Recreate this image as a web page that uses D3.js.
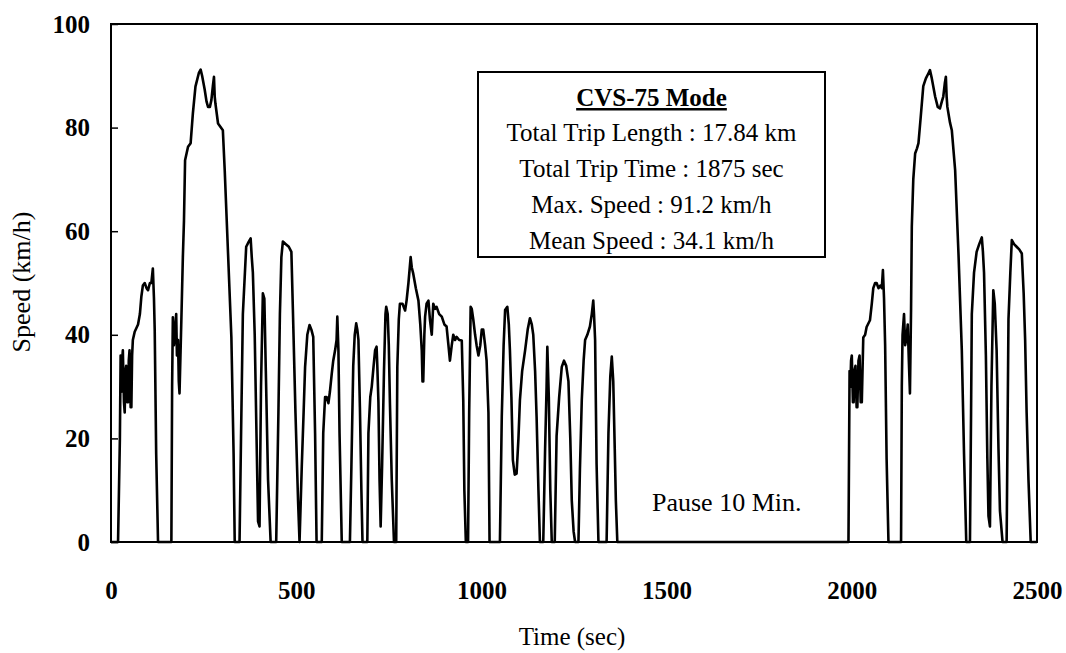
<!DOCTYPE html>
<html>
<head>
<meta charset="utf-8">
<script src="https://cdn.jsdelivr.net/npm/d3@7"></script>
<style>
  body { margin: 0; background: #fff; }
  svg { display: block; }
  text { font-family: 'Liberation Serif', 'Times New Roman', serif; fill: #000; }
</style>
</head>
<body>
<div class="chart-container"></div>
<script>
// cold start phase (0 - 505 s)
const coldTime = [0, 19, 24, 26, 28, 30, 32, 35, 37, 39, 41, 44, 46, 48, 50, 53, 55, 57, 59, 64, 73, 78, 82, 86, 91, 96, 100, 105, 109, 113, 116, 118, 122, 127,
  163, 165, 167, 170, 172, 176, 178, 181, 183, 185, 190, 194, 197, 200, 204, 208, 215, 221, 228, 237, 242, 246, 253, 258, 262, 267, 271, 275, 278, 280, 282, 289, 302, 307, 316, 325, 331, 334,
  347, 351, 356, 365, 372, 377, 380, 383, 388, 393, 397, 401, 405, 410, 414, 418, 424, 431,
  446, 452, 456, 460, 464, 472, 480, 487, 491, 498, 505, 509];
const coldSpeed = [0, 0, 20, 36, 29, 35, 37, 27, 25, 33, 34, 27, 27, 35, 37, 26, 26, 36, 39, 40.6, 42, 44, 47.4, 49.5, 50, 49, 48.6, 50, 50, 52.8, 47, 41, 17, 0,
  0, 30, 43.4, 38, 40, 44, 36, 39, 31, 28.7, 43, 55, 62, 73.7, 75, 76.3, 77, 82.7, 87.9, 90.5, 91.2, 90, 87.3, 85, 84, 84, 85.3, 88, 89.8, 86, 84.6, 80.8, 79.5, 71.8, 55.7, 39.5, 17, 0,
  0, 20, 44, 57, 58, 58.6, 55, 52, 40, 20, 4, 3, 30, 48, 47, 33, 12, 0,
  0, 25, 44, 55, 58, 57.5, 57, 56, 45, 25, 8, 0];

// stabilized phase (505 - 1372 s)
const stableTime = [515, 520, 524, 530, 536, 541, 546, 551, 555,
  569, 573, 578, 582, 587, 591, 596, 600, 605, 609, 611, 614, 617, 623,
  645, 649, 654, 658, 662, 665, 668, 672, 676, 679,
  692, 695, 700, 704, 709, 713, 717, 719, 722, 725, 728, 732, 737, 741, 743, 747, 750, 753, 758, 764,
  770, 773, 777, 780, 787, 794, 798, 803, 809, 812, 816, 823, 830, 835, 839, 841, 843, 846, 848, 852, 857, 861, 866, 870, 875, 879, 886, 893, 900, 906, 911, 915, 920, 924, 929, 933, 940, 947, 951, 954, 958,
  964, 967, 971, 974, 978, 983, 987, 992, 997, 1001, 1005, 1010, 1014, 1019, 1022,
  1050, 1055, 1060, 1064, 1070, 1074, 1077, 1081, 1085, 1090, 1095, 1100, 1104, 1110, 1118, 1125, 1131, 1136, 1140, 1145, 1149, 1154, 1158,
  1167, 1172, 1176, 1178, 1182, 1186, 1190,
  1198, 1203, 1210, 1217, 1223, 1229, 1235, 1240, 1244, 1249, 1253,
  1262, 1266, 1271, 1276, 1280, 1286, 1293, 1298, 1302, 1304, 1307, 1311, 1316,
  1338, 1343, 1348, 1352, 1356, 1360, 1363, 1367, 1372];
const stableSpeed = [14.5, 25, 33.8, 40, 41.9, 41, 39.6, 21, 0,
  0, 21, 28, 28, 26.8, 29, 32.5, 35, 37, 39, 43.5, 37, 21, 0,
  0, 14.5, 34, 40, 42.2, 41, 39, 26, 10, 0,
  0, 21, 28, 30, 34, 37, 37.7, 34, 27, 12, 3, 15, 33, 44, 45.4, 44, 38, 27, 12, 0,
  0, 33.8, 43, 46, 46, 44.7, 46.6, 50, 55, 53, 51.8, 49, 46.6, 42, 37, 31, 31, 40, 43.5, 46, 46.6, 43, 40, 46, 45, 45.4, 44, 43.5, 42, 41.6, 38, 35, 38, 40, 39, 39.6, 39, 38.9, 27.4, 10, 0,
  0, 25, 45.4, 45, 43, 40, 38, 36, 38, 41, 41, 38, 35, 25, 0,
  0, 24.2, 38, 44.8, 45.4, 42, 37, 28, 15.8, 13, 13.2, 20, 27.4, 33, 37, 41, 43.2, 42, 40, 33, 24.2, 10, 0,
  0, 18, 30, 37.7, 28, 10, 0,
  0, 20.5, 28, 33.8, 35, 34, 31, 20, 8, 2, 0,
  0, 14, 27.4, 35, 39, 40, 41.6, 44, 46.6, 44, 39, 15, 0,
  0, 21, 32, 35.8, 31, 18, 8, 0, 0];

// hot start phase after the 10 min pause
const hotTime = [1991, 1994, 1996, 1998, 2000, 2003, 2005, 2007, 2010, 2013, 2015, 2018, 2021, 2024, 2027, 2031, 2036, 2040, 2049, 2054, 2058, 2063, 2067, 2072, 2077, 2081, 2084, 2087, 2090, 2094, 2099,
  2133, 2135, 2137, 2141, 2144, 2148, 2151, 2154, 2157, 2160, 2162, 2166, 2171, 2176, 2180, 2186, 2193, 2200, 2207, 2211, 2216, 2225, 2232, 2238, 2243, 2247, 2251, 2254, 2256, 2258, 2265, 2270, 2279, 2288, 2297, 2303, 2309,
  2319, 2322, 2324, 2330, 2337, 2344, 2351, 2354, 2357, 2362, 2366, 2369, 2373, 2377, 2382, 2386, 2391, 2396, 2400, 2407,
  2418, 2423, 2428, 2432, 2438, 2445, 2452, 2459, 2464, 2468, 2472, 2477, 2483, 2500];
const hotSpeed = [0, 33, 30, 35, 36, 27, 27, 33, 34, 26, 26, 35, 36, 27, 27, 39.5, 40, 41.5, 42.8, 46, 49, 50, 50, 49, 49.5, 49, 52.5, 47, 38, 16, 0,
  0, 30, 40, 44, 38, 39.5, 42, 35, 28.7, 45, 60.9, 70, 75, 76, 77, 82, 88, 89.5, 90.5, 91.1, 89.5, 86, 84, 83.7, 85, 86, 88.5, 89.8, 86, 84, 81, 79.5, 71.8, 55.7, 37, 17, 0,
  0, 25, 44, 52, 56, 57.5, 58.8, 56, 52, 36, 16, 5, 3, 30, 48.6, 46, 37, 18, 6, 0,
  0, 43, 52, 58.3, 57.5, 57, 56.5, 55.7, 48, 39, 25, 12, 0, 0];

const xTicks = [0, 500, 1000, 1500, 2000, 2500];
const yTicks = [0, 20, 40, 60, 80, 100];
const infoTitle = 'CVS-75 Mode';
const infoLines = ['Total Trip Length : 17.84 km', 'Total Trip Time : 1875 sec', 'Max. Speed : 91.2 km/h', 'Mean Speed : 34.1 km/h'];

const width = 1066;
const height = 653;
const margin = { top: 24, right: 29, bottom: 111, left: 111 };
const plotW = width - margin.left - margin.right;
const plotH = height - margin.top - margin.bottom;

const svg = d3.select('.chart-container')
    .append('svg')
    .attr('width', width)
    .attr('height', height);

const g = svg.append('g')
    .attr('transform', `translate(${margin.left}, ${margin.top})`);

// scales
const x = d3.scaleLinear().domain([0, 2500]).range([0, plotW]);
const y = d3.scaleLinear().domain([0, 100]).range([plotH, 0]);

// join phases into one trace
const points = [];
coldTime.forEach((t, i) => points.push({ t, v: coldSpeed[i] }));
stableTime.forEach((t, i) => points.push({ t, v: stableSpeed[i] }));
hotTime.forEach((t, i) => points.push({ t, v: hotSpeed[i] }));

// axes
g.append('g')
    .attr('class', 'y-axis')
    .call(d3.axisLeft(y).tickValues(yTicks).tickFormat(d3.format('d')).tickSizeInner(-7).tickSizeOuter(0).tickPadding(21))
    .call(a => a.select('.domain').remove())
    .call(a => a.selectAll('line').attr('stroke', '#000').attr('stroke-width', 1.5))
    .selectAll('text')
    .style('font-family', "'Liberation Serif', serif")
    .style('font-size', '25px')
    .style('font-weight', 'bold');

g.append('g')
    .attr('class', 'x-axis')
    .attr('transform', `translate(0, ${plotH})`)
    .call(d3.axisBottom(x).tickValues(xTicks).tickFormat(d3.format('d')).tickSize(0).tickPadding(39))
    .call(a => a.select('.domain').remove())
    .selectAll('text')
    .style('font-family', "'Liberation Serif', serif")
    .style('font-size', '25px')
    .style('font-weight', 'bold');

// speed trace
g.append('path')
    .datum(points)
    .attr('fill', 'none')
    .attr('stroke', '#000')
    .attr('stroke-width', 2.6)
    .attr('stroke-linejoin', 'round')
    .attr('d', d3.line()
        .x(d => x(d.t))
        .y(d => y(d.v)));

// frame
g.append('rect')
    .attr('x', 0)
    .attr('y', 0)
    .attr('width', plotW)
    .attr('height', plotH)
    .attr('fill', 'none')
    .attr('stroke', '#000')
    .attr('stroke-width', 2);

// axis labels
svg.append('text')
    .attr('x', margin.left + plotW / 2 - 2)
    .attr('y', 645)
    .style('font-size', '25px')
    .style('text-anchor', 'middle')
    .text('Time (sec)');

svg.append('text')
    .attr('transform', 'rotate(-90)')
    .attr('x', -282)
    .attr('y', 30)
    .style('font-size', '26px')
    .style('text-anchor', 'middle')
    .text('Speed (km/h)');

// info box
const box = { x: 478, y: 72, w: 347, h: 185 };
svg.append('rect')
    .attr('x', box.x)
    .attr('y', box.y)
    .attr('width', box.w)
    .attr('height', box.h)
    .attr('fill', '#fff')
    .attr('stroke', '#000')
    .attr('stroke-width', 2);

svg.append('text')
    .attr('x', box.x + box.w / 2)
    .attr('y', 106)
    .style('font-size', '25px')
    .style('font-weight', 'bold')
    .style('text-anchor', 'middle')
    .style('text-decoration', 'underline')
    .text(infoTitle);

svg.selectAll('.info-line')
    .data(infoLines)
    .enter().append('text')
    .attr('class', 'info-line')
    .attr('x', box.x + box.w / 2)
    .attr('y', (d, i) => 141 + i * 36)
    .style('font-size', '25px')
    .style('text-anchor', 'middle')
    .text(d => d);

svg.append('text')
    .attr('x', 652)
    .attr('y', 511)
    .style('font-size', '26px')
    .text('Pause 10 Min.');
</script>
</body>
</html>
